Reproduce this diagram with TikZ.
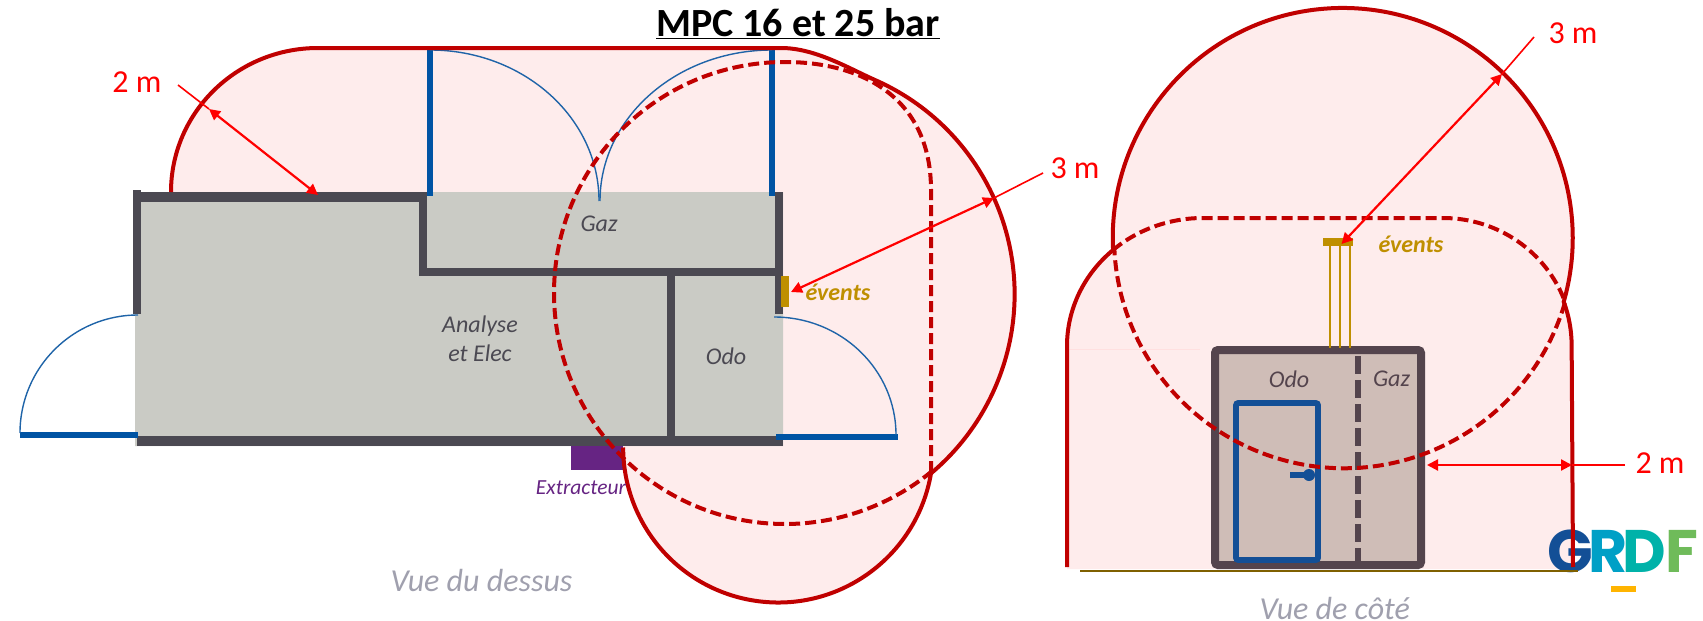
\documentclass[tikz,border=0pt]{standalone}
\usepackage{fontspec}
\setmainfont{Carlito}
\newfontfamily\logofont{Poppins}
\usetikzlibrary{arrows.meta}
\definecolor{zonefill}{HTML}{FEECEC}
\definecolor{zoneline}{HTML}{C00000}
\definecolor{roomfill}{HTML}{CACBC5}
\definecolor{wallc}{HTML}{4B4952}
\definecolor{doorc}{HTML}{0054A4}
\definecolor{arcc}{HTML}{1F64A8}
\definecolor{ventc}{HTML}{BF8F00}
\definecolor{extrc}{HTML}{662483}
\definecolor{captc}{HTML}{A0A0AE}
\definecolor{sidefill}{HTML}{CFBDB7}
\definecolor{sidewall}{HTML}{54444D}
\definecolor{sidedoor}{HTML}{134F96}
\definecolor{groundc}{HTML}{7F6000}
\definecolor{logoR}{HTML}{00A0C6}
\definecolor{logoD}{HTML}{00B2A9}
\definecolor{logoF}{HTML}{6FBB5A}
\definecolor{logoY}{HTML}{FFB400}
\tikzset{
  zonesolid/.style={draw=zoneline,line width=4pt},
  zonedash/.style={draw=zoneline,line width=4pt,dash pattern=on 11pt off 5pt},
  wallline/.style={fill=wallc,draw=none},
  doorleaf/.style={fill=doorc,draw=none},
  doorarc/.style={draw=arcc,line width=1.4pt},
  dimtail/.style={draw=red,line width=1.6pt},
  dimarrow/.style={draw=red,line width=2.2pt,{Triangle[length=11pt,width=11pt]}-{Triangle[length=11pt,width=11pt]},shorten <=0pt,shorten >=0pt},
  dimlabel/.style={inner sep=0pt,text=red,font=\fontsize{32}{32}\selectfont},
  roomlabel/.style={inner sep=0pt,text=wallc,align=center,font=\fontsize{24}{29}\selectfont\itshape},
  ventlabel/.style={inner sep=0pt,text=ventc,font=\fontsize{24}{24}\selectfont\bfseries\itshape},
  caption/.style={inner sep=0pt,text=captc,font=\fontsize{32}{32}\selectfont\itshape},
  logoletter/.style={inner sep=0pt,font=\fontsize{60}{60}\logofont\bfseries},
}
\begin{document}
\begin{tikzpicture}[x=1pt,y=-1pt]
\useasboundingbox (0,0) rectangle (1703,621);
% --- top view zone
\fill[zonefill] (171,192) arc[start angle=180,end angle=270,x radius=147,y radius=144]
  -- (781,48) .. controls (815,48) and (848,68) .. (875,80)
  arc[start angle=-66.2,end angle=50,radius=234]
  arc[start angle=9.6,end angle=180,radius=155] -- cycle;
% --- building
\fill[roomfill] (135,200) -- (427,200) -- (427,192) -- (783,192) -- (783,446) -- (135,446) -- cycle;
\fill[extrc] (571,446) rectangle (623,470);
\fill[wallline] (133,190) rectangle (141,314);
\fill[wallline] (133,192) rectangle (427,202);
\fill[wallline] (419,192) rectangle (427,276);
\fill[wallline] (419,268) rectangle (783,276);
\fill[wallline] (775,192) rectangle (783,314);
\fill[wallline] (137,436) rectangle (783,446);
\fill[wallline] (667,276) rectangle (675,436);
\fill[ventc] (780.5,276) rectangle (789,307);
% doors
\fill[doorleaf] (427,48) rectangle (433,196);
\fill[doorleaf] (769,48) rectangle (775,196);
\fill[doorleaf] (20,432) rectangle (138,438);
\fill[doorleaf] (776,434) rectangle (898,440);
\draw[doorarc] (430,50) arc[start angle=270,end angle=360,x radius=169,y radius=151];
\draw[doorarc] (772,50) arc[start angle=270,end angle=180,x radius=172,y radius=151];
\draw[doorarc] (138,315) arc[start angle=270,end angle=180,radius=118];
\draw[doorarc] (774,317) arc[start angle=270,end angle=360,x radius=122,y radius=118];
% zone outlines
\draw[zonesolid] (171,192) arc[start angle=180,end angle=270,x radius=147,y radius=144]
  -- (781,48) .. controls (815,48) and (848,68) .. (875,80)
  arc[start angle=-66.2,end angle=50,radius=234]
  arc[start angle=9.6,end angle=180,radius=155];
\draw[zonedash] (931,472) -- (931,190) .. controls (931,100) and (865,62) .. (785,62)
  arc[start angle=270,end angle=50.8,radius=231];
% --- side view zone
\fill[zonefill] (1067,569) -- (1067,346) arc[start angle=180,end angle=228.6,x radius=136,y radius=128]
  arc[start angle=177,end angle=376.1,radius=230]
  arc[start angle=-20.1,end angle=0,x radius=130,y radius=128] -- (1573,569) -- cycle;
\draw[line width=1pt,draw=red!12] (1069,349) -- (1200,349);
% side building
\fill[sidefill] (1215,350) rectangle (1421,565);
\draw[sidewall,line width=6pt,dash pattern=on 18pt off 6pt] (1358,356) -- (1358,562);
\draw[sidewall,line width=8pt,rounded corners=3pt] (1215,350) rectangle (1421,565);
\draw[sidedoor,line width=5.6pt,rounded corners=2pt] (1236,403) rectangle (1318,560);
\fill[sidedoor] (1290,472) rectangle (1308,478);
\fill[sidedoor] (1309,475) circle[radius=6];
% vents
\draw[ventc,line width=1.6pt] (1330,246) -- (1330,348) (1340,246) -- (1340,348) (1350,246) -- (1350,348);
\fill[ventc] (1323,238) rectangle (1353,246);
% logo
\node[logoletter,text=sidedoor] (logoG) at (1570,551) {G};
\node[logoletter,text=logoR] (logoRl) at (1608,551) {R};
\node[logoletter,text=logoD] (logoDl) at (1644,551) {D};
\node[logoletter,text=logoF] (logoFl) at (1682,551) {F};
\fill[logoY] (1611,586) rectangle (1636,592);
% ground
\draw[groundc,line width=2pt] (1080,570.5) -- (1578,570.5);
% side outlines
\draw[zonesolid] (1067,567) -- (1067,346) arc[start angle=180,end angle=228.6,x radius=136,y radius=128]
  arc[start angle=177,end angle=376.1,radius=230]
  arc[start angle=-20.1,end angle=0,x radius=130,y radius=128] -- (1573,567);
\draw[zonedash] (1113,250) arc[start angle=228.6,end angle=270,x radius=136,y radius=128]
  -- (1443,218) arc[start angle=270,end angle=339.9,x radius=130,y radius=128]
  arc[start angle=16.1,end angle=177,radius=230];
% --- texts
\node[inner sep=0pt,font=\fontsize{40}{40}\selectfont\bfseries] (title) at (798,23.5) {\underline{MPC 16 et 25 bar}};
\node[roomlabel] (gazT) at (599,224) {Gaz};
\node[roomlabel] (analyse) at (480,339) {Analyse\\et Elec};
\node[roomlabel] (odoT) at (726,356) {Odo};
\node[ventlabel] (evT) at (838,292) {évents};
\node[inner sep=0pt,text=extrc,font=\fontsize{21.5}{21.5}\selectfont\itshape] (extr) at (581,488) {Extracteur};
\node[caption] (captT) at (481.5,581) {Vue du dessus};
\node[caption] (captS) at (1334.7,609) {Vue de côté};
\node[roomlabel,text=sidewall] (odoS) at (1289,379) {Odo};
\node[roomlabel,text=sidewall] (gazS) at (1391.5,379) {Gaz};
\node[ventlabel] (evS) at (1411,244) {évents};
\node[dimlabel] (lblA) at (137,82) {2 m};
\node[dimlabel] (lblB) at (1075,168) {3 m};
\node[dimlabel] (lblC) at (1573,33) {3 m};
\node[dimlabel] (lblD) at (1660,463) {2 m};
% --- dimension arrows
\coordinate (a0) at (178,85); \coordinate (a1) at (209,109); \coordinate (a2) at (318,195);
\draw[dimtail] (a0) -- (a1); \draw[dimarrow] (a1) -- (a2);
\coordinate (b0) at (1043,173); \coordinate (b1) at (994,198); \coordinate (b2) at (791,292);
\draw[dimtail] (b0) -- (b1); \draw[dimarrow] (b1) -- (b2);
\coordinate (c0) at (1534,37); \coordinate (c1) at (1502,74); \coordinate (c2) at (1341.5,244);
\draw[dimtail] (c0) -- (c1); \draw[dimarrow] (c1) -- (c2);
\coordinate (d0) at (1625,465); \coordinate (d1) at (1572,465); \coordinate (d2) at (1427,465);
\draw[dimtail] (d0) -- (d1); \draw[dimarrow] (d1) -- (d2);
\end{tikzpicture}
\end{document}
